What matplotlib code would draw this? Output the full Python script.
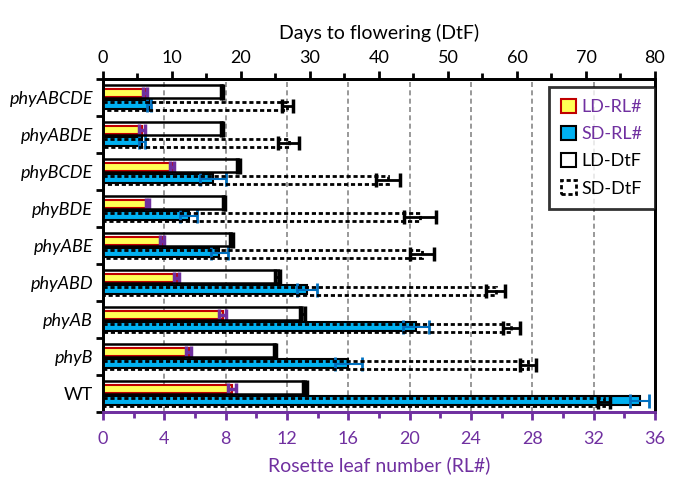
import matplotlib
matplotlib.use("Agg")
import matplotlib.pyplot as plt
import matplotlib.patches as mpatches
import numpy as np

plt.rcParams['font.family'] = ['Lato', 'DejaVu Sans']

genotypes = ["phyABCDE", "phyABDE", "phyBCDE", "phyBDE", "phyABE", "phyABD", "phyAB", "phyB", "WT"]

ld_rl = [2.75, 2.55, 4.5, 2.9, 3.85, 4.8, 7.8, 5.6, 8.4]
ld_rl_err = [0.15, 0.2, 0.15, 0.12, 0.15, 0.15, 0.2, 0.17, 0.25]
sd_rl = [3.0, 2.55, 7.2, 5.6, 7.6, 13.3, 20.4, 16.0, 35.0]
sd_rl_err = [0.15, 0.2, 0.85, 0.55, 0.55, 0.65, 0.85, 0.87, 0.63]
ld_dtf = [17.2, 17.3, 19.6, 17.5, 18.6, 25.3, 28.9, 24.9, 29.3]
ld_dtf_err = [0.15, 0.15, 0.2, 0.15, 0.2, 0.3, 0.35, 0.15, 0.3]
sd_dtf = [26.7, 26.9, 41.3, 46.0, 46.2, 56.9, 59.2, 61.6, 72.6]
sd_dtf_err = [0.8, 1.5, 1.8, 2.3, 1.75, 1.4, 1.2, 1.2, 0.85]

rl_ticks = list(range(0, 37, 4))
dtf_ticks = list(range(0, 81, 10))

PURPLE = "#7030A0"
BLUE = "#00B0F0"
EBLUE = "#0070C0"
YELLOW = "#FFFF55"
RED = "#C00000"

fig = plt.figure(figsize=(6.77, 4.84), dpi=100)
ax = fig.add_axes([0.152, 0.1488, 0.8155, 0.688])
ax2 = ax.twiny()

y = np.arange(len(genotypes))

# RL# bars on bottom axis
ax.barh(y - 0.13, ld_rl, height=0.22, color=YELLOW, edgecolor=RED, linewidth=1.5, zorder=3)
ax.errorbar(ld_rl, y - 0.13, xerr=ld_rl_err, fmt='none', ecolor=PURPLE, elinewidth=2.5,
            capsize=4, capthick=2.5, zorder=4)
ax.barh(y + 0.19, sd_rl, height=0.24, color=BLUE, edgecolor='black', linewidth=1.5, zorder=3)
ax.errorbar(sd_rl, y + 0.19, xerr=sd_rl_err, fmt='none', ecolor=EBLUE, elinewidth=1.5,
            capsize=5, capthick=2, zorder=4)

# DtF bars on top axis
ax2.barh(y - 0.16, ld_dtf, height=0.34, fill=False, edgecolor='black', linewidth=1.8, zorder=3)
ax2.errorbar(ld_dtf, y - 0.16, xerr=ld_dtf_err, fmt='none', ecolor='black', elinewidth=2,
             capsize=6, capthick=2.5, zorder=4)
ax2.barh(y + 0.235, sd_dtf, height=0.23, fill=False, edgecolor='black', linewidth=2,
         linestyle=(0, (1.5, 1)), zorder=3)
ax2.errorbar(sd_dtf, y + 0.235, xerr=sd_dtf_err, fmt='none', ecolor='black', elinewidth=2,
             capsize=5, capthick=2.5, zorder=4)

# axes limits
ax.set_xlim(0, 36)
ax2.set_xlim(0, 80)
ax.set_ylim(len(genotypes) - 0.5, -0.5)

# grid
for t in rl_ticks[1:-1]:
    ax.axvline(t, color='#888888', linestyle=(0, (3, 2)), linewidth=1.2, zorder=1)

# bottom axis
ax.set_xticks(rl_ticks)
ax.set_xticklabels([str(t) for t in rl_ticks])
ax.set_xticks(range(0, 37, 2), minor=True)
ax.tick_params(axis='x', which='major', direction='out', length=6, width=2, colors=PURPLE,
               labelsize=13, pad=8)
ax.tick_params(axis='x', which='minor', direction='out', length=4, width=2, colors=PURPLE)
ax.set_xlabel("Rosette leaf number (RL#)", color=PURPLE, fontsize=14, labelpad=6)

# top axis
ax2.set_xticks(dtf_ticks)
ax2.set_xticklabels([str(t) for t in dtf_ticks])
ax2.set_xticks(range(0, 81, 5), minor=True)
ax2.tick_params(axis='x', which='major', direction='out', length=6, width=2, colors='black',
                labelsize=13, pad=3)
ax2.tick_params(axis='x', which='minor', direction='out', length=4, width=2, colors='black')
ax2.set_xlabel("Days to flowering (DtF)", fontsize=14, labelpad=8)

# left axis
ax.set_yticks(y)
ax.set_yticklabels(genotypes)
for lbl in ax.get_yticklabels():
    if lbl.get_text() != "WT":
        lbl.set_fontstyle('italic')
ax.set_yticks(np.arange(-0.5, len(genotypes), 1.0), minor=True)
ax.tick_params(axis='y', which='major', length=0, labelsize=13, pad=7)
ax.tick_params(axis='y', which='minor', direction='out', length=5, width=2)

for a in (ax, ax2):
    for s in a.spines.values():
        s.set_linewidth(2)
ax.spines['bottom'].set_color(PURPLE)
ax2.spines['bottom'].set_color(PURPLE)

# legend
handles = [
    mpatches.Patch(facecolor=YELLOW, edgecolor=RED, linewidth=1.5, label="LD-RL#"),
    mpatches.Patch(facecolor=BLUE, edgecolor='black', linewidth=1.5, label="SD-RL#"),
    mpatches.Patch(facecolor='white', edgecolor='black', linewidth=1.5, label="LD-DtF"),
    mpatches.Patch(facecolor='white', edgecolor='black', linewidth=2, linestyle=(0, (1.5, 1)), label="SD-DtF"),
]
leg = ax2.legend(handles=handles, loc='upper right', bbox_to_anchor=(1.0, 0.977),
                 fontsize=13, frameon=True, fancybox=False, handlelength=0.8, handleheight=0.8,
                 handletextpad=0.3, labelspacing=0.6, borderpad=0.7, borderaxespad=0)
leg.get_frame().set_edgecolor('black')
leg.get_frame().set_linewidth(2)
for txt, c in zip(leg.get_texts(), [PURPLE, PURPLE, 'black', 'black']):
    txt.set_color(c)

fig.savefig("out.png", dpi=100)
